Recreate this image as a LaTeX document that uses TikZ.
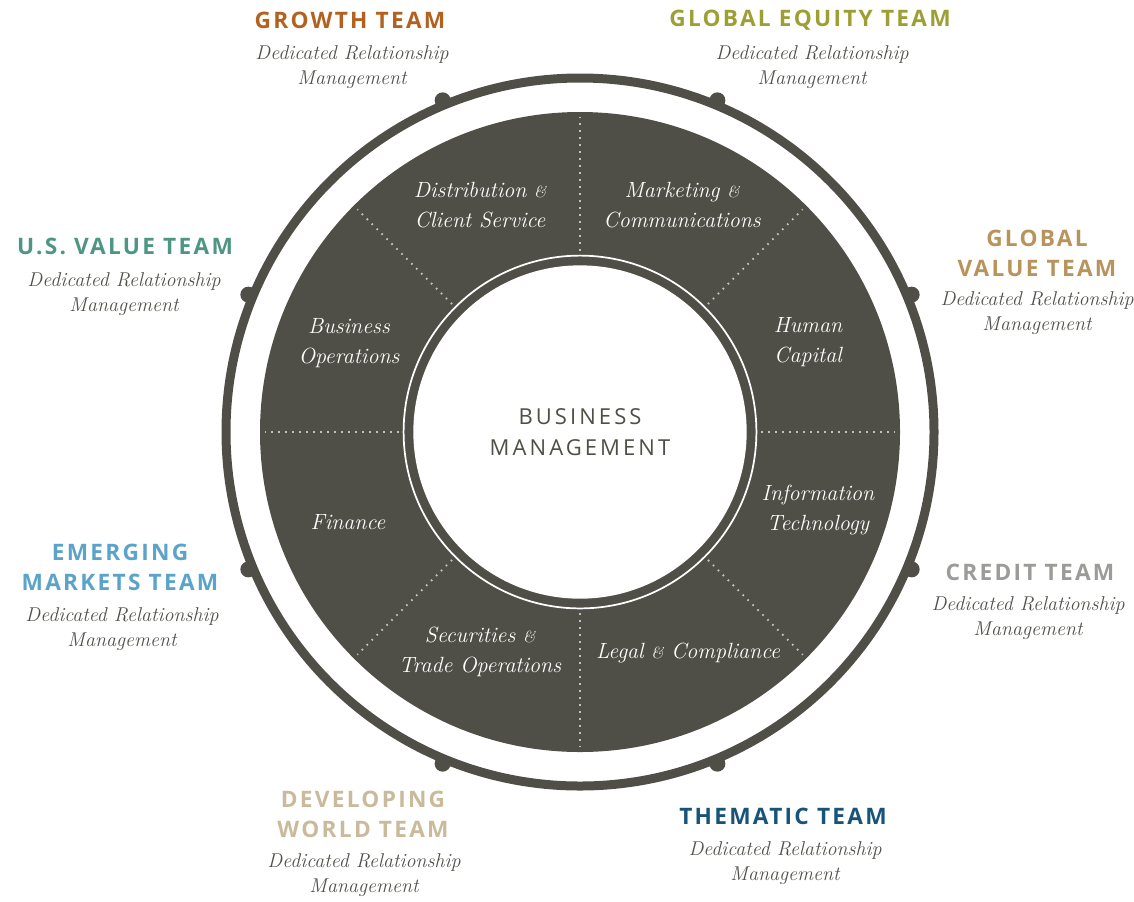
\documentclass[tikz,border=0pt]{standalone}
\usepackage{fontspec}
\usetikzlibrary{calc}
\newfontfamily\teamfont[LetterSpace=10]{Open Sans}
\newfontfamily\bmfont[LetterSpace=14]{Open Sans}
\definecolor{disk}{RGB}{80,79,71}
\definecolor{subgray}{RGB}{80,80,75}
\definecolor{cGrowth}{RGB}{178,97,31}
\definecolor{cEquity}{RGB}{156,160,52}
\definecolor{cUSValue}{RGB}{79,150,130}
\definecolor{cGlValue}{RGB}{184,147,92}
\definecolor{cEmerging}{RGB}{91,163,201}
\definecolor{cCredit}{RGB}{155,155,152}
\definecolor{cDevelop}{RGB}{201,186,155}
\definecolor{cThematic}{RGB}{24,84,122}
\tikzset{
  teamhead/.style={font=\teamfont\bfseries\fontsize{17}{22.5}\selectfont, align=center, inner sep=0pt},
  teamsub/.style={font=\itshape\fontsize{15}{18.75}\selectfont, text=subgray, align=center, inner sep=0pt},
  unitlabel/.style={font=\itshape\fontsize{16.5}{22.5}\selectfont, text=white, align=center, inner sep=0pt},
  divider/.style={draw=white!65!disk, line width=1.4pt, dash pattern=on 1.2pt off 4.05pt},
}
\newcommand{\am}{{\fontsize{12}{12}\selectfont\&}}
\begin{document}
\begin{tikzpicture}[x=0.75pt,y=-0.75pt]
\useasboundingbox (0,0) rectangle (1134,901);
\coordinate (c) at (580,432);
% outer ring and bumps
\draw[disk, line width=6.75pt] (c) circle[radius=265.5pt];
\foreach \a in {22.5,67.5,...,337.5}
  \fill[disk] ($(c)+(\a:359)$) circle[radius=6pt];
% dark disk
\fill[disk] (c) circle[radius=240pt];
% dividers
\foreach \a in {0,45,...,315}
  \draw[divider] ($(c)+(\a:181)$) -- ($(c)+(\a:315)$);
% inner white circle and ring
\fill[white] (c) circle[radius=125pt];
\draw[white, line width=1.3pt] (c) circle[radius=132.3pt];
\node[font=\bmfont\fontsize{16.5}{23.5}\selectfont, text=disk, align=center] (bm) at (c) {BUSINESS\\MANAGEMENT};
% unit labels
\node[unitlabel] (dist) at (480,205) {Distribution \am\\Client Service};
\node[unitlabel] (mark) at (682,205) {Marketing \am\\Communications};
\node[unitlabel] (hum) at (808,342) {Human\\Capital};
\node[unitlabel] (it) at (818,510) {Information\\Technology};
\node[unitlabel] (legal) at (688,653) {Legal \am\ Compliance};
\node[unitlabel] (sec) at (480,652) {Securities \am\\Trade Operations};
\node[unitlabel] (fin) at (348,522) {Finance};
\node[unitlabel] (bops) at (349,343) {Business\\Operations};
% teams
\node[teamhead, text=cGrowth] (growth) at (350,20) {GROWTH TEAM};
\node[teamsub] (growthsub) at (352,67.5) {Dedicated Relationship\\Management};
\node[teamhead, text=cEquity] (equity) at (810,20) {GLOBAL EQUITY TEAM};
\node[teamsub] (equitysub) at (812,67.5) {Dedicated Relationship\\Management};
\node[teamhead, text=cUSValue] (usv) at (125,246) {U.S. VALUE TEAM};
\node[teamsub] (usvsub) at (124,294) {Dedicated Relationship\\Management};
\node[teamhead, text=cGlValue] (glv) at (1037,253) {GLOBAL\\VALUE TEAM};
\node[teamsub] (glvsub) at (1037,313.5) {Dedicated Relationship\\Management};
\node[teamhead, text=cEmerging] (em) at (120,567) {EMERGING\\MARKETS TEAM};
\node[teamsub] (emsub) at (122,629.5) {Dedicated Relationship\\Management};
\node[teamhead, text=cCredit] (cred) at (1030,572) {CREDIT TEAM};
\node[teamsub] (credsub) at (1028,618.5) {Dedicated Relationship\\Management};
\node[teamhead, text=cDevelop] (dev) at (363,814) {DEVELOPING\\WORLD TEAM};
\node[teamsub] (devsub) at (364,875.5) {Dedicated Relationship\\Management};
\node[teamhead, text=cThematic] (them) at (783,816) {THEMATIC TEAM};
\node[teamsub] (themsub) at (785,863.5) {Dedicated Relationship\\Management};
\end{tikzpicture}
\end{document}
